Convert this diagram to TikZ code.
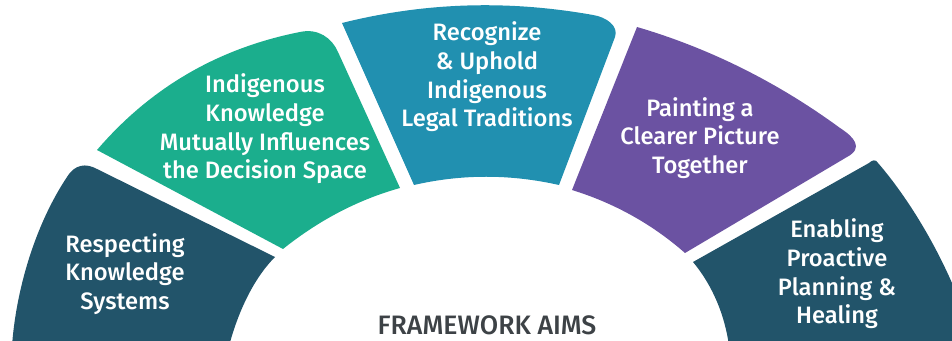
\documentclass[tikz,border=0pt]{standalone}
\usepackage{fontspec}
\setmainfont{Fira Sans}[UprightFont=* Medium]
\definecolor{cdark}{HTML}{22546A}
\definecolor{cgreen}{HTML}{1BAE8D}
\definecolor{cblue}{HTML}{2190B0}
\definecolor{cpurple}{HTML}{6B52A2}
\definecolor{cgray}{HTML}{3D4246}
\tikzset{
  segfill/.style={fill=#1, draw=none},
  segtext/.style={text=white, align=center, inner sep=0pt, font=\fontsize{17.8}{21.5}\selectfont},
  titletext/.style={text=cgray, inner sep=0pt, font=\fontsize{20}{24}\selectfont}
}
\begin{document}
\begin{tikzpicture}[x=0.75pt, y=-0.75pt]
\useasboundingbox (0,0) rectangle (952,341);
\clip (0,0) rectangle (952,341);
% segment 1
\path[segfill=cdark] (12,346) .. controls (16,290) and (35,225) .. (67,177)
  .. controls (75,164) and (86,163) .. (97,169) -- (275,257)
  .. controls (257,275) and (240,305) .. (229,346) -- cycle;
% segment 2
\path[segfill=cgreen] (97,150) .. controls (151,87) and (219,48) .. (300,32)
  .. controls (318,28) and (332,38) .. (338,52) -- (400,188)
  .. controls (357,200) and (318,221) .. (283,249) -- cycle;
% segment 3
\path[segfill=cblue] (342,23) .. controls (426,2) and (509,0) .. (593,15)
  .. controls (606,17) and (619,26) .. (615,37) -- (559,185)
  .. controls (510,174) and (462,174) .. (414,185) -- cycle;
% segment 4
\path[segfill=cpurple] (637,27) .. controls (712,49) and (780,84) .. (840,128)
  .. controls (854,137) and (864,148) .. (847,157) -- (685,253)
  .. controls (652,224) and (614,203) .. (572,190) -- cycle;
% segment 5
\path[segfill=cdark] (693,262) -- (869,163) .. controls (872,160) and (876,159) .. (878,163)
  .. controls (905,194) and (950,260) .. (975,346) -- (729,346)
  .. controls (725,316) and (713,286) .. (693,262) -- cycle;
% texts
\node[segtext] (t1) at (125,274) {Respecting\\Knowledge\\Systems};
\node[segtext] (t2) at (265,129) {Indigenous\\Knowledge\\Mutually Influences\\the Decision Space};
\node[segtext] (t3) at (487,77) {Recognize\\\& Uphold\\Indigenous\\Legal Traditions};
\node[segtext] (t4) at (700,138) {Painting a\\Clearer Picture\\Together};
\node[segtext] (t5) at (837,274) {Enabling\\Proactive\\Planning \&\\Healing};
\node[titletext] (title) at (487,325) {FRAMEWORK AIMS};
\end{tikzpicture}
\end{document}
